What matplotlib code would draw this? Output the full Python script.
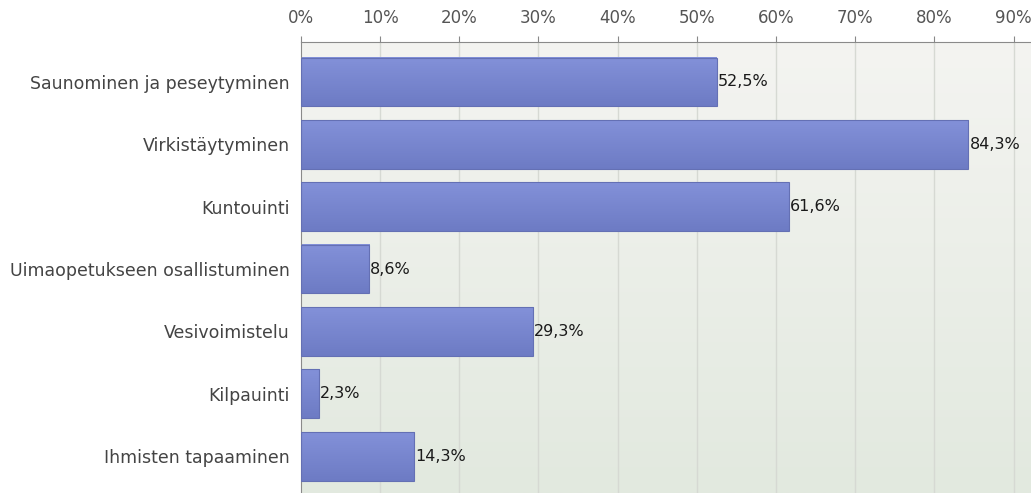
import numpy as np
import matplotlib.pyplot as plt
from matplotlib.colors import LinearSegmentedColormap

# Survey answers and their shares (%)
categories = ['Saunominen ja peseytyminen', 'Virkistäytyminen', 'Kuntouinti',
              'Uimaopetukseen osallistuminen', 'Vesivoimistelu', 'Kilpauinti',
              'Ihmisten tapaaminen']
values = [52.5, 84.3, 61.6, 8.6, 29.3, 2.3, 14.3]
ticks = [0, 10, 20, 30, 40, 50, 60, 70, 80, 90]

plt.rcParams['font.family'] = ['DejaVu Sans']

fig = plt.figure(figsize=(10.31, 4.93), dpi=100)
ax = fig.add_axes([0.2919, 0.0, 0.7081, 0.9148])

xmax = 92.2
ytop, ybot = -0.64, len(categories) - 1 + 0.59
ax.set_xlim(0, xmax)
ax.set_ylim(ybot, ytop)

# plot area background: pale grey fading to greenish grey
bg = LinearSegmentedColormap.from_list('bg', ['#f4f4f1', '#e2e9df'])
grad = np.linspace(0, 1, 256).reshape(-1, 1)
ax.imshow(grad, cmap=bg, aspect='auto', extent=[0, xmax, ybot, ytop],
          zorder=0, interpolation='bilinear')

for t in ticks[1:]:
    ax.axvline(t, color='#d6d9d3', lw=1, zorder=1)

# bars with a soft vertical gradient
barmap = LinearSegmentedColormap.from_list('bar', ['#8391d9', '#6d7bc4'])
h = 0.78
for i, v in enumerate(values):
    ax.imshow(grad, cmap=barmap, aspect='auto',
              extent=[0, v, i + h / 2, i - h / 2], zorder=2,
              interpolation='bilinear')
    ax.add_patch(plt.Rectangle((0, i - h / 2), v, h, fill=False,
                               edgecolor='#6470b4', lw=0.8, zorder=3))
    ax.text(v + 0.15, i, ('%.1f%%' % v).replace('.', ','), va='center',
            ha='left', fontsize=11.5, color='#1a1a1a', zorder=4)

ax.set_yticks(range(len(categories)))
ax.set_yticklabels(categories, fontsize=12.5, color='#444444')
ax.xaxis.tick_top()
ax.set_xticks(ticks)
ax.set_xticklabels(['%d%%' % t for t in ticks], fontsize=12, color='#555555')
ax.tick_params(axis='x', length=4, color='#888888', pad=7)
ax.tick_params(axis='y', length=0, pad=8)

for side in ['right', 'bottom']:
    ax.spines[side].set_visible(False)
ax.spines['top'].set_color('#8a8a8a')
ax.spines['left'].set_color('#8a8a8a')

fig.savefig('out.png', dpi=100)
